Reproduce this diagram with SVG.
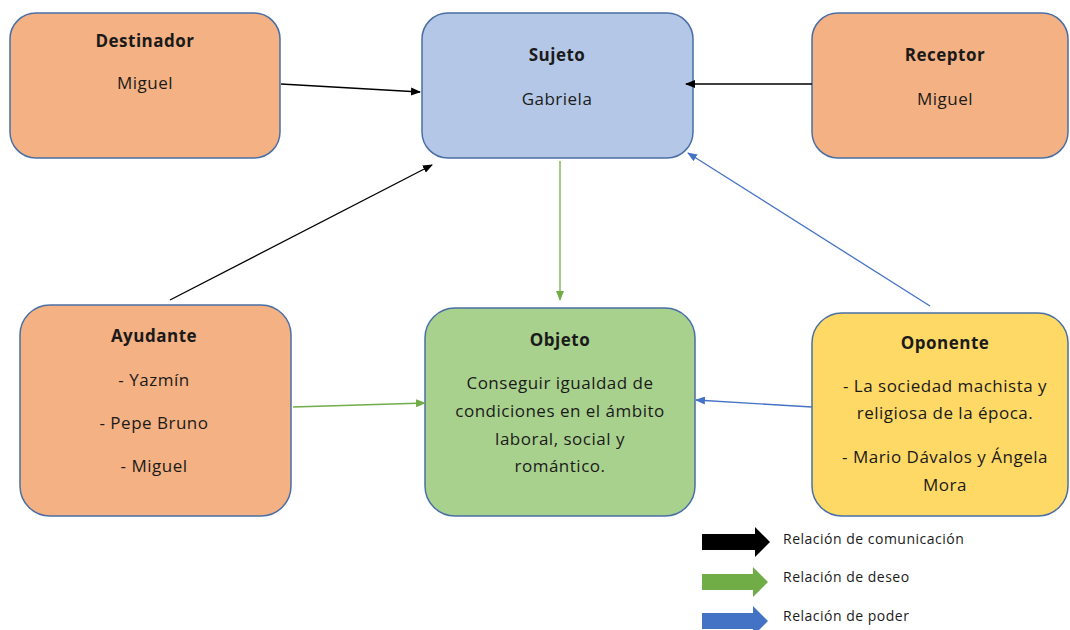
<svg xmlns="http://www.w3.org/2000/svg" width="1070" height="630" viewBox="0 0 1070 630">
<style>
.box{stroke:#4A6FA5;stroke-width:1.5}
.or{fill:#F4B183}.bl{fill:#B4C7E7}.gr{fill:#A9D18E}.ye{fill:#FFD966}
text{font-family:"Open Sans","Liberation Sans",sans-serif;font-size:17px;letter-spacing:0.5px;fill:#1a1a1a;text-anchor:middle}
.t{font-weight:bold}
.lg{font-size:14px;letter-spacing:0.5px;text-anchor:start}
.k{stroke:#000;stroke-width:1.3;fill:none}
.g{stroke:#70AD47;stroke-width:1.3;fill:none}
.b{stroke:#4472C4;stroke-width:1.3;fill:none}
</style>
<defs>
<marker id="mk" markerWidth="10" markerHeight="8" refX="9" refY="4" orient="auto" markerUnits="userSpaceOnUse"><path d="M0,0 L10,4 L0,8 Z" fill="#000"/></marker>
<marker id="mg" markerWidth="10" markerHeight="8" refX="9" refY="4" orient="auto" markerUnits="userSpaceOnUse"><path d="M0,0 L10,4 L0,8 Z" fill="#70AD47"/></marker>
<marker id="mb" markerWidth="10" markerHeight="8" refX="9" refY="4" orient="auto" markerUnits="userSpaceOnUse"><path d="M0,0 L10,4 L0,8 Z" fill="#4472C4"/></marker>
</defs>
<g id="destinador">
<rect class="box or" x="10" y="13" width="270" height="145" rx="26"/>
<text class="t" x="145" y="47">Destinador</text>
<text x="145" y="89">Miguel</text>
</g>
<g id="sujeto">
<rect class="box bl" x="422" y="13" width="271" height="145" rx="26"/>
<text class="t" x="557" y="61">Sujeto</text>
<text x="557" y="105">Gabriela</text>
</g>
<g id="receptor">
<rect class="box or" x="812" y="13" width="256" height="145" rx="26"/>
<text class="t" x="945" y="61">Receptor</text>
<text x="945" y="105">Miguel</text>
</g>
<g id="ayudante">
<rect class="box or" x="20" y="305" width="271" height="211" rx="30"/>
<text class="t" x="154" y="342">Ayudante</text>
<text x="154" y="386">- Yazmín</text>
<text x="154" y="429">- Pepe Bruno</text>
<text x="154" y="472">- Miguel</text>
</g>
<g id="objeto">
<rect class="box gr" x="425" y="308" width="270" height="208" rx="30"/>
<text class="t" x="560" y="346">Objeto</text>
<text x="560" y="389">Conseguir igualdad de</text>
<text x="560" y="417">condiciones en el ámbito</text>
<text x="560" y="445">laboral, social y</text>
<text x="560" y="472">romántico.</text>
</g>
<g id="oponente">
<rect class="box ye" x="812" y="313" width="256" height="203" rx="30"/>
<text class="t" x="945" y="349">Oponente</text>
<text x="945" y="392">- La sociedad machista y</text>
<text x="945" y="419">religiosa de la época.</text>
<text x="945" y="463">- Mario Dávalos y Ángela</text>
<text x="945" y="491">Mora</text>
</g>
<g id="connectors">
<line class="k" x1="281" y1="84" x2="420" y2="92" marker-end="url(#mk)"/>
<line class="k" x1="812" y1="84" x2="686" y2="84" marker-end="url(#mk)"/>
<line class="k" x1="170" y1="300" x2="432" y2="165" marker-end="url(#mk)"/>
<line class="g" x1="560" y1="161" x2="560" y2="300" marker-end="url(#mg)"/>
<line class="g" x1="293" y1="407" x2="425" y2="403" marker-end="url(#mg)"/>
<line class="b" x1="930" y1="306" x2="688" y2="153" marker-end="url(#mb)"/>
<line class="b" x1="812" y1="407" x2="696" y2="400" marker-end="url(#mb)"/>
</g>
<g id="legend">
<path d="M702,534 H755 V527 L770,542 L755,557 V550 H702 Z" fill="#000"/>
<path d="M702,574 H753 V567 L768,582 L753,597 V590 H702 Z" fill="#70AD47"/>
<path d="M702,613 H753 V606 L768,621 L753,636 V629 H702 Z" fill="#4472C4"/>
<text class="lg" x="783" y="544">Relación de comunicación</text>
<text class="lg" x="783" y="582">Relación de deseo</text>
<text class="lg" x="783" y="621">Relación de poder</text>
</g>
</svg>
